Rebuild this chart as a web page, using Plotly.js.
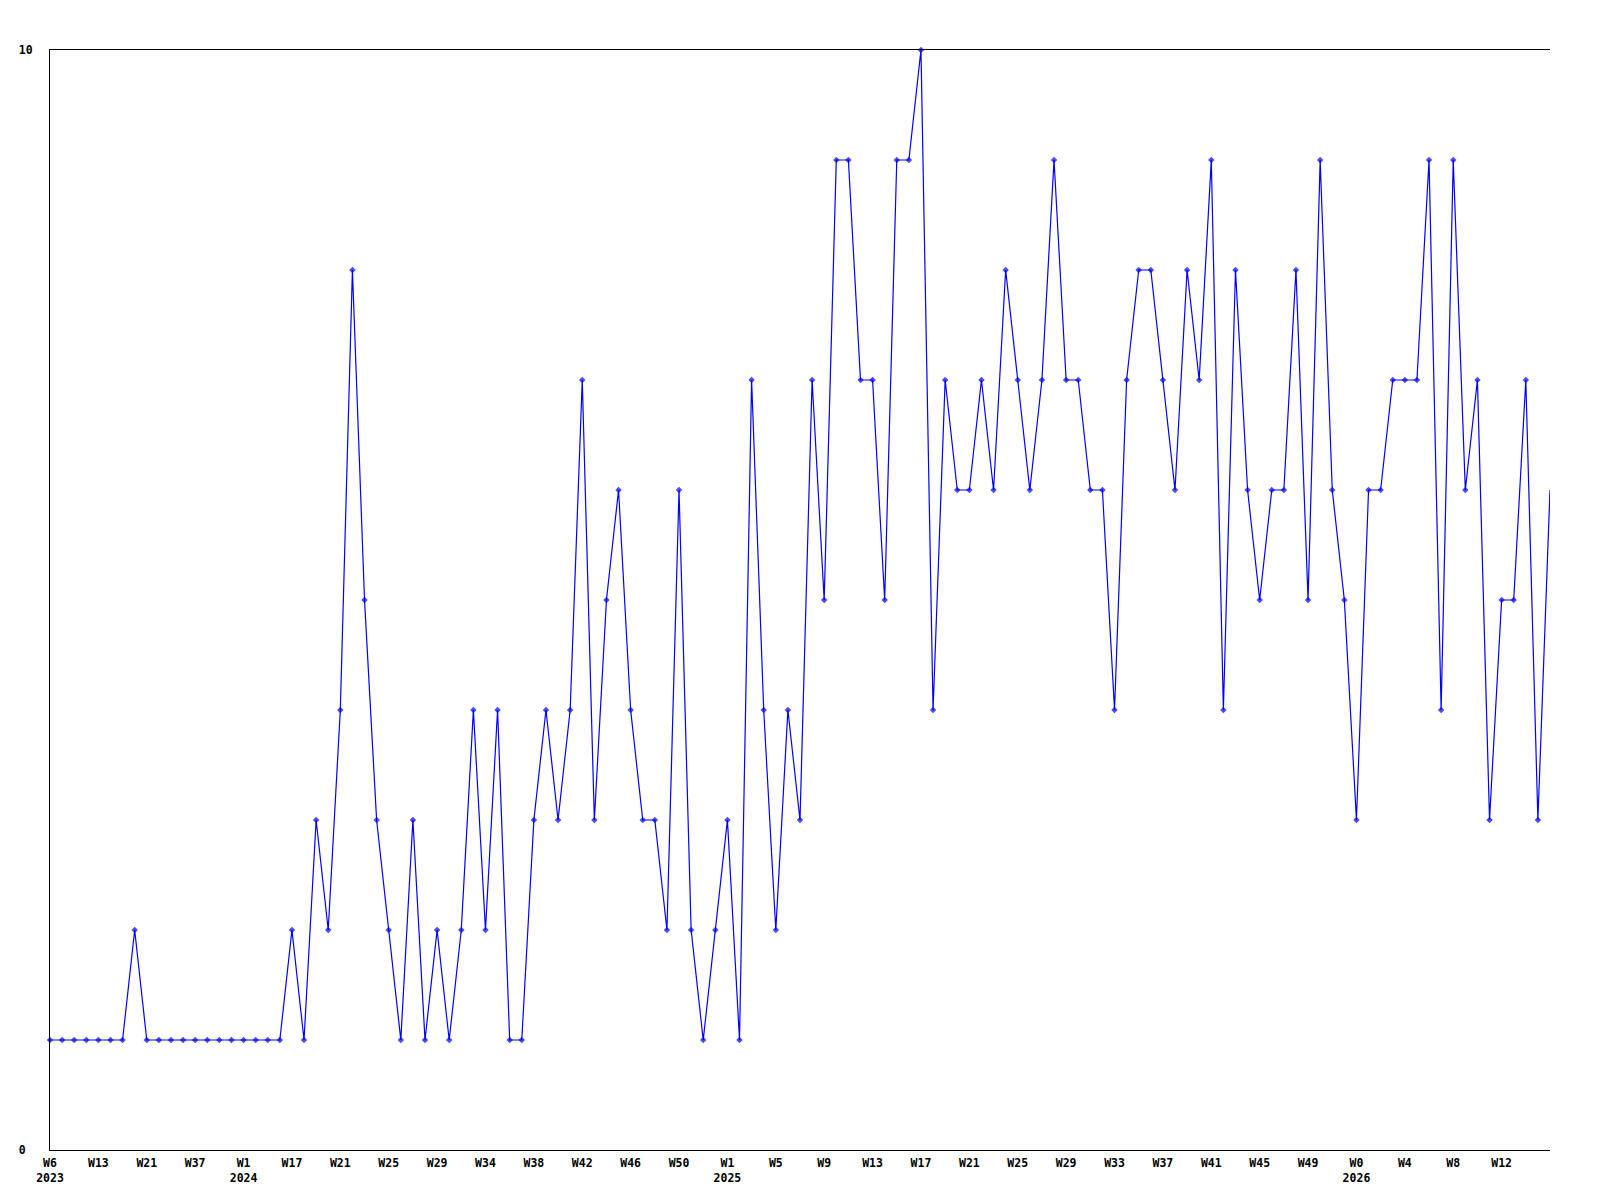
<!DOCTYPE html>
<html>
<head>
<meta charset="utf-8">
<script src="https://cdn.plot.ly/plotly-3.0.1.min.js"></script>
<style>
  html, body { margin: 0; padding: 0; background: #ffffff; }
  #chart { width: 1600px; height: 1200px; }
</style>
</head>
<body>
<div id="chart"></div>
<script>
// Weekly counts, one per point, in order
const weeklyValues = [
  1,1,1,1,1,1,1,2,1,1,
  1,1,1,1,1,1,1,1,1,1,
  2,1,3,2,4,8,5,3,2,1,
  3,1,2,1,2,4,2,4,1,1,
  3,4,3,4,7,3,5,6,4,3,
  3,2,6,2,1,2,3,1,7,4,
  2,4,3,7,5,9,9,7,7,5,
  9,9,10,4,7,6,6,7,6,8,
  7,6,7,9,7,7,6,6,4,7,
  8,8,7,6,8,7,9,4,8,6,
  5,6,6,8,5,9,6,5,3,6,
  6,7,7,7,9,4,9,6,7,3,
  5,5,7,3,6
];

// X tick labels, one every 4 points
const xTickLabels = [
  "W6<br>2023","W13","W21","W37","W1<br>2024","W17","W21","W25","W29","W34",
  "W38","W42","W46","W50","W1<br>2025","W5","W9","W13","W17","W21",
  "W25","W29","W33","W37","W41","W45","W49","W0<br>2026","W4","W8","W12"
];
const xTickStep = 4;

// Y tick values and labels
const yTickValues = [0, 10];
const yTickLabels = ["0\u00a0", "10"];

const xIdx = weeklyValues.map((v, i) => i);
const xTickVals = xTickLabels.map((t, k) => k * xTickStep);
const markerSizes = weeklyValues.map((v, i) => (i === weeklyValues.length - 1 ? 0 : 5));

const fontFam = "DejaVu Sans Mono, monospace";

const trace = {
  x: xIdx,
  y: weeklyValues,
  type: "scatter",
  mode: "lines+markers",
  line: { color: "#0000ff", width: 1.2 },
  marker: { color: "#0000ff", symbol: "diamond", size: markerSizes, line: { width: 0 } },
  cliponaxis: false,
  hoverinfo: "x+y"
};

const layout = {
  width: 1600,
  height: 1200,
  margin: { l: 50, r: 50, t: 50, b: 50, pad: 0 },
  paper_bgcolor: "#ffffff",
  plot_bgcolor: "#ffffff",
  showlegend: false,
  font: { family: fontFam, size: 11.5, color: "#000000", weight: "bold" },
  xaxis: {
    type: "linear",
    range: [0, weeklyValues.length - 1],
    tickmode: "array",
    tickvals: xTickVals,
    ticktext: xTickLabels,
    showgrid: false,
    zeroline: false,
    showline: true,
    linecolor: "#000000",
    linewidth: 1,
    mirror: true,
    ticks: "",
    tickangle: 0,
    ticklabelstandoff: 2,
    tickfont: { family: fontFam, size: 11.5, color: "#000000", weight: "bold" },
    fixedrange: true
  },
  yaxis: {
    range: [0, 10],
    tickmode: "array",
    tickvals: yTickValues,
    ticktext: yTickLabels,
    showgrid: false,
    zeroline: false,
    showline: true,
    linecolor: "#000000",
    linewidth: 1,
    mirror: false,
    ticks: "",
    ticklabelstandoff: 14,
    tickfont: { family: fontFam, size: 11.5, color: "#000000", weight: "bold" },
    fixedrange: true
  }
};

Plotly.newPlot("chart", [trace], layout, { displayModeBar: false, staticPlot: true });
</script>
</body>
</html>
